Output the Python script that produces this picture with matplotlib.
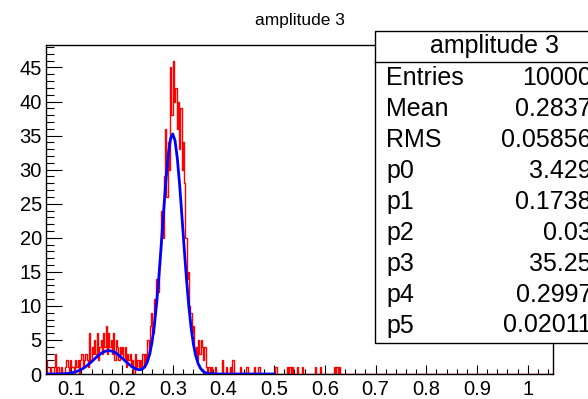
import numpy as np
import matplotlib
matplotlib.use("Agg")
import matplotlib.pyplot as plt
from matplotlib.patches import Rectangle
from matplotlib.lines import Line2D
from matplotlib.ticker import MultipleLocator, FixedLocator

plt.rcParams['font.family'] = ['Liberation Sans', 'DejaVu Sans']

# ---------------- data ----------------
title = "amplitude 3"
x_min, x_max = 0.05, 1.05
bin_width = 0.0025

# dense part of histogram (bins from 0.05 to 0.40, width 0.0025)
dense_counts = [
    2, 0, 0, 1, 0, 0, 1, 3, 0, 1,
    0, 0, 1, 0, 0, 1, 2, 1, 0, 2,
    1, 1, 0, 2, 1, 2, 0, 2, 3, 1,
    2, 3, 2, 1, 6, 2, 4, 3, 5, 3,
    6, 2, 4, 5, 3, 6, 4, 7, 3, 6,
    4, 5, 3, 6, 2, 5, 4, 2, 4, 3,
    4, 2, 4, 1, 3, 2, 3, 1, 2, 0,
    3, 1, 2, 1, 2, 1, 3, 1, 3, 2,
    5, 3, 7, 9, 6, 11, 10, 14, 12, 16,
    18, 24, 20, 29, 36, 26, 34, 30, 45, 38,
    46, 40, 42, 36, 40, 33, 39, 30, 34, 28,
    20, 14, 15, 10, 9, 6, 7, 3, 4, 2,
    5, 3, 5, 4, 2, 4, 1, 0, 1, 0,
    1, 0, 0, 1, 0, 0, 0, 0, 0, 2,
]
# sparse tail entries beyond 0.40
tail_x = [0.407, 0.413, 0.419, 0.4326, 0.4465, 0.4622, 0.4682, 0.4721,
          0.5037, 0.5253, 0.5313, 0.5372, 0.5451, 0.5569, 0.5825, 0.5904,
          0.618, 0.624, 0.6299]
tail_counts = [1, 1, 2, 1, 1, 1, 1, 1, 1, 1, 1, 1, 1, 1, 1, 1, 1, 1, 1]

stat_labels = ["Entries", "Mean", "RMS", "p0", "p1", "p2", "p3", "p4", "p5"]
stat_values = ["10000", "0.2837", "0.05856", "3.429", "0.1738", "0.03",
               "35.25", "0.2997", "0.02011"]
fit_params = [3.429, 0.1738, 0.03, 35.25, 0.2997, 0.02011]
fit_range = (0.05, 0.5)

x_ticks = [0.1, 0.2, 0.3, 0.4, 0.5, 0.6, 0.7, 0.8, 0.9, 1.0]
x_ticklabels = ["0.1", "0.2", "0.3", "0.4", "0.5", "0.6", "0.7", "0.8", "0.9", "1"]
y_ticks = [0, 5, 10, 15, 20, 25, 30, 35, 40, 45]
y_max = 48.3

# ---------------- build histogram ----------------
edges = np.arange(x_min, x_max + bin_width / 2, bin_width)
counts = np.zeros(len(edges) - 1)
counts[:len(dense_counts)] = dense_counts
idx = np.digitize(tail_x, edges) - 1
for i, c in zip(idx, tail_counts):
    counts[i] += c

# ---------------- figure ----------------
W, H = 588, 399
fig = plt.figure(figsize=(W / 100, H / 100), dpi=100)
ax = fig.add_axes([46 / W, 25 / H, 507 / W, 329 / H])

ax.stairs(counts, edges, color=(1, 0, 0), lw=1.0, zorder=2)

p0, p1, p2, p3, p4, p5 = fit_params
xf = np.linspace(fit_range[0], fit_range[1], 100)
yf = p0 * np.exp(-0.5 * ((xf - p1) / p2) ** 2) + p3 * np.exp(-0.5 * ((xf - p4) / p5) ** 2)
ax.plot(xf, yf, color=(0, 0, 1), lw=2.0, zorder=3)

ax.set_xlim(x_min, x_max)
ax.set_ylim(0, y_max)
ax.xaxis.set_major_locator(FixedLocator(x_ticks))
ax.set_xticklabels(x_ticklabels)
ax.xaxis.set_minor_locator(MultipleLocator(0.02))
ax.yaxis.set_major_locator(FixedLocator(y_ticks))
ax.yaxis.set_minor_locator(MultipleLocator(1))

ax.tick_params(axis='x', which='major', direction='in', length=6.8, width=0.8,
               labelsize=14.5, pad=4, top=False)
ax.tick_params(axis='x', which='minor', direction='in', length=3.4, width=0.8, top=False)
ax.tick_params(axis='y', which='major', direction='in', length=11.5, width=0.8,
               labelsize=14.5, pad=3, right=False)
ax.tick_params(axis='y', which='minor', direction='in', length=5.7, width=0.8, right=False)
for s in ax.spines.values():
    s.set_linewidth(1.0)

# title
fig.text(300 / W, 1 - 20 / H, title, ha='center', va='center', fontsize=12.5)

# stats box
bx0, bx1 = 375, 615
by0, by1 = 30.7, 342.7
sep = 61.7
fig.patches.append(Rectangle((bx0 / W, 1 - by1 / H), (bx1 - bx0) / W, (by1 - by0) / H,
                             transform=fig.transFigure, facecolor='white',
                             edgecolor='black', lw=1.0, zorder=5))
fig.lines.append(Line2D([bx0 / W, bx1 / W], [1 - sep / H, 1 - sep / H],
                        transform=fig.transFigure, color='black', lw=1.0, zorder=6))
fig.text((bx0 + bx1) / 2 / W, 1 - 46.2 / H, title, ha='center', va='center',
         fontsize=18, zorder=7)
for k, (lab, val) in enumerate(zip(stat_labels, stat_values)):
    yy = 1 - (78.3 + 30.9 * k) / H
    fig.text(386 / W, yy, lab, ha='left', va='center', fontsize=18, zorder=7)
    fig.text(592 / W, yy, val, ha='right', va='center', fontsize=18, zorder=7)

fig.savefig("out.png", dpi=100)
